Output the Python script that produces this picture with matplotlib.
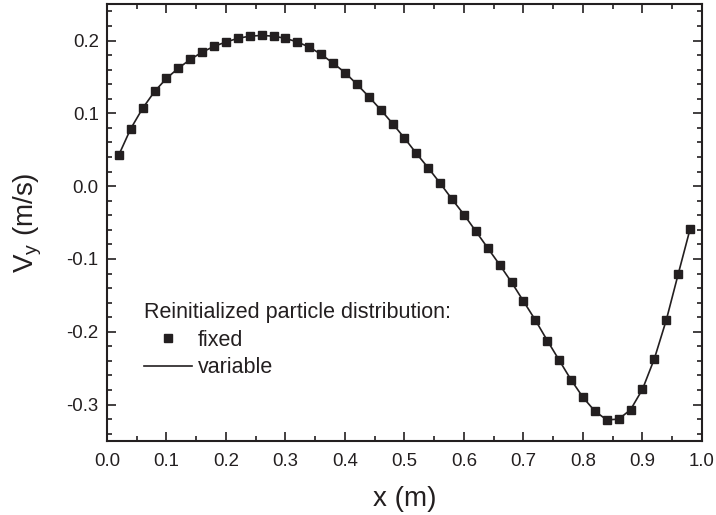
import numpy as np
import matplotlib.pyplot as plt
from matplotlib.ticker import MultipleLocator

plt.rcParams['font.family'] = ['Liberation Sans', 'DejaVu Sans']
plt.rcParams['mathtext.fontset'] = 'custom'
plt.rcParams['mathtext.rm'] = 'Liberation Sans'

# velocity profile along x, sampled every 0.02 m
x_pos = [0.02, 0.04, 0.06, 0.08, 0.10, 0.12, 0.14, 0.16, 0.18, 0.20,
         0.22, 0.24, 0.26, 0.28, 0.30, 0.32, 0.34, 0.36, 0.38, 0.40,
         0.42, 0.44, 0.46, 0.48, 0.50, 0.52, 0.54, 0.56, 0.58, 0.60,
         0.62, 0.64, 0.66, 0.68, 0.70, 0.72, 0.74, 0.76, 0.78, 0.80,
         0.82, 0.84, 0.86, 0.88, 0.90, 0.92, 0.94, 0.96, 0.98]
vy_fixed = [0.043, 0.079, 0.107, 0.130, 0.148, 0.162, 0.174, 0.184, 0.192, 0.198,
            0.203, 0.206, 0.207, 0.206, 0.203, 0.198, 0.191, 0.181, 0.169, 0.156,
            0.140, 0.123, 0.105, 0.086, 0.066, 0.045, 0.025, 0.004, -0.018, -0.039,
            -0.062, -0.085, -0.108, -0.132, -0.158, -0.184, -0.212, -0.239, -0.266, -0.290,
            -0.309, -0.321, -0.320, -0.307, -0.279, -0.237, -0.184, -0.121, -0.059]
vy_variable = vy_fixed

ink = '#231f20'

fig = plt.figure(figsize=(7.16, 5.15), dpi=100)
ax = fig.add_axes([0.1494, 0.1437, 0.831, 0.8483])

ax.plot(x_pos, vy_fixed, ls='none', marker='s', ms=5.2, color=ink, label='fixed')
ax.plot(x_pos, vy_variable, ls='-', lw=1.2, color=ink, label='variable')

ax.set_xlim(0, 1.0)
ax.set_ylim(-0.35, 0.25)
ax.xaxis.set_major_locator(MultipleLocator(0.1))
ax.xaxis.set_minor_locator(MultipleLocator(0.05))
ax.yaxis.set_major_locator(MultipleLocator(0.1))
ax.yaxis.set_minor_locator(MultipleLocator(0.02))
ax.xaxis.set_major_formatter(lambda v, p: f'{v:.1f}')
ax.yaxis.set_major_formatter(lambda v, p: f'{v:.1f}'.replace('\u2212', '-'))

for s in ax.spines.values():
    s.set_linewidth(1.5)
    s.set_color(ink)
ax.tick_params(which='both', direction='in', top=True, right=True, colors=ink,
               labelsize=13.4, width=1.2)
ax.tick_params(which='major', length=6.5)
ax.tick_params(which='minor', length=3.6)
ax.tick_params(axis='x', which='major', pad=9)
ax.tick_params(axis='y', which='major', pad=6)

ax.set_xlabel('x (m)', fontsize=20, color=ink, labelpad=11)
ax.set_ylabel(r'V$_\mathregular{y}$ (m/s)', fontsize=20, color=ink, labelpad=16)

leg = ax.legend(title='Reinitialized particle distribution:', alignment='left',
                frameon=False, fontsize=15.5, title_fontsize=15.5,
                handlelength=2.2, handletextpad=0.3, labelspacing=0.3,
                loc='upper left', bbox_to_anchor=(0.048, 0.337), borderaxespad=0)
for t in leg.get_texts():
    t.set_color(ink)
leg.get_title().set_color(ink)

fig.savefig('out.png', dpi=100)
